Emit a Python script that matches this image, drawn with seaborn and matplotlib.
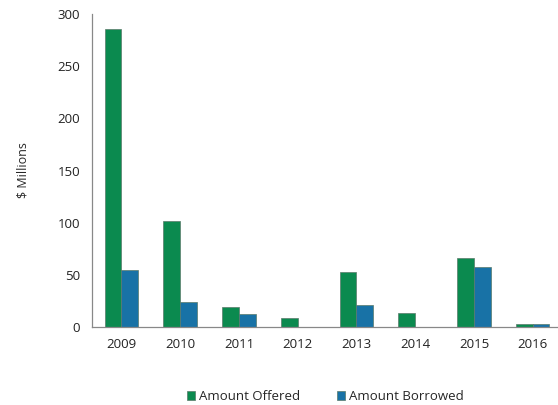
import seaborn as sns
import matplotlib.pyplot as plt
import pandas as pd
from matplotlib.ticker import FixedLocator

years = ["2009", "2010", "2011", "2012", "2013", "2014", "2015", "2016"]
offered = [285, 102, 19.5, 8.6, 53, 13.5, 66, 3.5]
borrowed = [55, 24, 13, 0, 21, 0, 57.5, 3.5]
series = ["Amount Offered", "Amount Borrowed"]
colors = ["#0b8a4f", "#1872a6"]

df = pd.DataFrame({
    "Year": years * 2,
    "Value": offered + borrowed,
    "Series": [series[0]] * len(years) + [series[1]] * len(years),
})

sns.set_style("white")
plt.rcParams["font.family"] = ["Open Sans", "DejaVu Sans"]

fig = plt.figure(figsize=(5.58, 4.05), dpi=100)
ax = fig.add_axes([0.165, 0.192, 0.835, 0.774])
sns.barplot(data=df, x="Year", y="Value", hue="Series", palette=colors,
            saturation=1, width=0.57, edgecolor="#5a7a6a", linewidth=0.5, ax=ax)

ax.set_ylim(0, 300)
ax.set_xlim(-0.5, 7.43)
ax.set_yticks([0, 50, 100, 150, 200, 250, 300])
ax.set_xlabel("")
ax.set_ylabel("$ Millions", fontsize=9, labelpad=20)
ax.tick_params(axis="both", labelsize=9.5, colors="#222222")
ax.tick_params(axis="y", length=5, color="#888888", width=0.8)
ax.tick_params(axis="x", which="major", length=0, pad=8)
ax.xaxis.set_minor_locator(FixedLocator([i + 0.5 for i in range(-1, 8)]))
ax.tick_params(axis="x", which="minor", length=5, color="#888888", width=0.8)
for s in ["top", "right"]:
    ax.spines[s].set_visible(False)
for s in ["left", "bottom"]:
    ax.spines[s].set_color("#888888")
    ax.spines[s].set_linewidth(0.9)

ax.legend(loc="lower center", bbox_to_anchor=(0.5, -0.28), ncol=2, frameon=False,
          fontsize=9.5, handlelength=0.6, handleheight=0.6, handletextpad=0.3,
          columnspacing=2.8)

fig.savefig("out.png", dpi=100)
